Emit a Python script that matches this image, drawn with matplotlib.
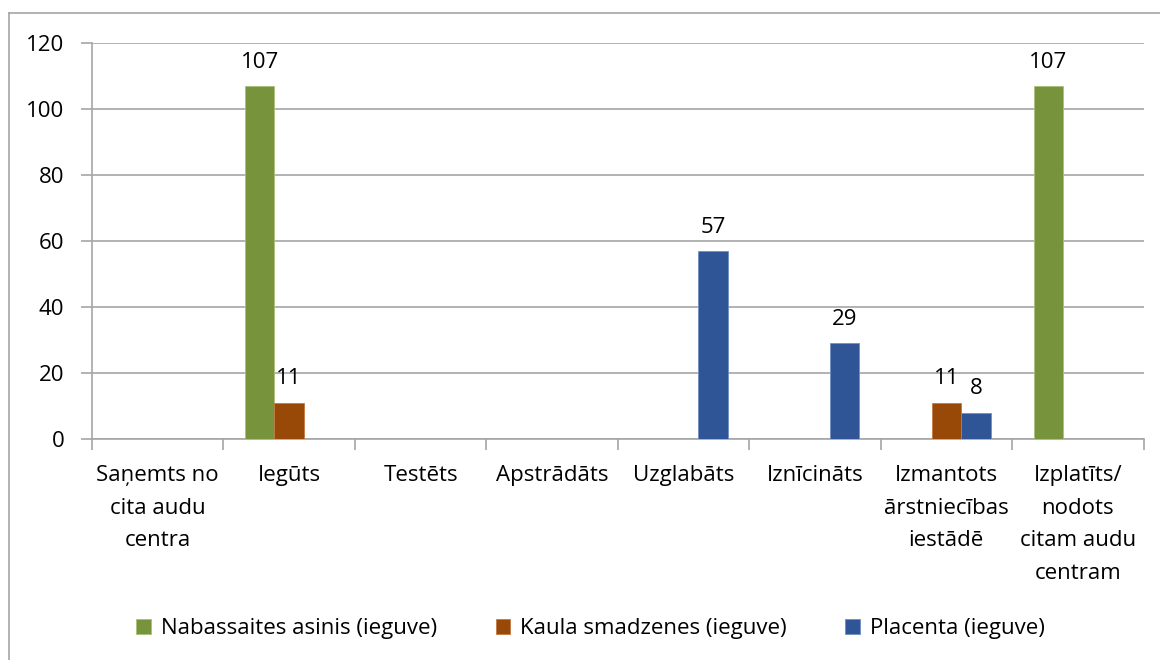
import numpy as np
import matplotlib.pyplot as plt
from matplotlib.lines import Line2D

plt.rcParams['font.family'] = ['Open Sans', 'DejaVu Sans']

categories = ['Saņemts no\ncita audu\ncentra', 'Iegūts', 'Testēts', 'Apstrādāts',
              'Uzglabāts', 'Iznīcināts', 'Izmantots\nārstniecības\niestādē',
              'Izplatīts/\nnodots\ncitam audu\ncentram']
series_names = ['Nabassaites asinis (ieguve)', 'Kaula smadzenes (ieguve)', 'Placenta (ieguve)']
nabassaites = [0, 107, 0, 0, 0, 0, 0, 107]
kaula = [0, 11, 0, 0, 0, 0, 11, 0]
placenta = [0, 0, 0, 0, 57, 29, 8, 0]
colors = ['#77933C', '#984807', '#2F5597']
edge_colors = ['#A9C07A', '#C27A45', '#6F8FC4']

fs = 16

fig = plt.figure(figsize=(11.6, 6.6), dpi=100)
ax = fig.add_axes([0.0793, 0.335, 0.9065, 0.6])

x = np.arange(len(categories))
w = 0.224
for i, (vals, name) in enumerate(zip([nabassaites, kaula, placenta], series_names)):
    bars = ax.bar(x + (i - 1) * w, vals, w, color=colors[i], edgecolor=edge_colors[i],
                  linewidth=0.6, label=name, zorder=3)
    for b, v in zip(bars, vals):
        if v:
            ax.text(b.get_x() + b.get_width() / 2, v + 4, str(v), ha='center', va='bottom',
                    fontsize=fs, color='black')

ax.set_xlim(-0.5, len(categories) - 0.5)
ax.set_ylim(0, 120)
ax.set_yticks(range(0, 121, 20))
ax.yaxis.grid(True, color='#A6A6A6', linewidth=1.2, zorder=0)
ax.set_axisbelow(True)

ax.set_xticks(np.arange(len(categories) + 1) - 0.5)
ax.set_xticklabels([])
ax.set_xticks(x, minor=True)
ax.set_xticklabels(categories, minor=True, fontsize=fs, linespacing=1.72)
ax.tick_params(axis='x', which='major', length=8, color='#A6A6A6', width=1.2, direction='out')
ax.tick_params(axis='x', which='minor', length=0, pad=19)
ax.tick_params(axis='y', length=8, color='#A6A6A6', width=1.2, labelsize=fs, pad=12)

for s in ['top', 'right']:
    ax.spines[s].set_visible(False)
for s in ['left', 'bottom']:
    ax.spines[s].set_color('#A6A6A6')
    ax.spines[s].set_linewidth(1.2)

handles, labels = ax.get_legend_handles_labels()
fig.legend(handles, labels, loc='center', bbox_to_anchor=(0.509, 0.047), ncol=3,
           frameon=False, fontsize=fs, handlelength=0.65, handleheight=0.65,
           handletextpad=0.45, columnspacing=2.65)

# chart border (left and top visible)
fig.add_artist(Line2D([9 / 1160, 9 / 1160], [0, 1 - 13 / 660], color='#A6A6A6', lw=1.2,
                      transform=fig.transFigure))
fig.add_artist(Line2D([9 / 1160, 1], [1 - 13 / 660, 1 - 13 / 660], color='#A6A6A6', lw=1.2,
                      transform=fig.transFigure))

fig.savefig('out.png', dpi=100)
